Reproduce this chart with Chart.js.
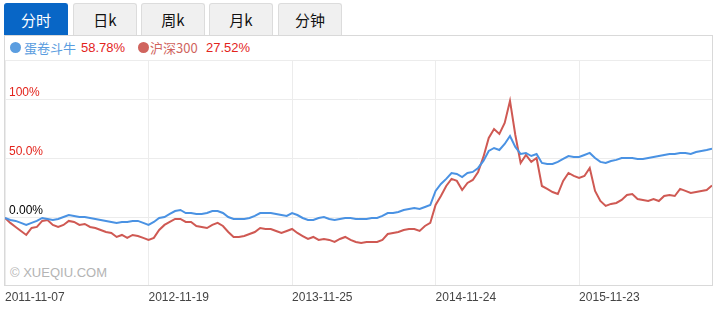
<!DOCTYPE html>
<html>
<head>
<meta charset="utf-8">
<script src="https://cdn.jsdelivr.net/npm/chart.js@4.4.0/dist/chart.umd.min.js"></script>
<style>
  html, body { margin: 0; padding: 0; background: #fff; }
  body { width: 720px; height: 309px; position: relative; overflow: hidden;
         font-family: "Noto Sans CJK SC", "Liberation Sans", Arial, sans-serif; }
  .tab { position: absolute; top: 3px; height: 31px; width: 62px; box-sizing: content-box;
         background: #f0f0f0; border: 1px solid #dcdcdc; border-bottom: none;
         border-radius: 3px 3px 0 0; text-align: center; line-height: 31px;
         font-size: 15px; color: #111; }
  .tab.active { background: #0866c6; border-color: #0866c6; color: #fff; }
  #panel { position: absolute; left: 4px; top: 35px; width: 707px; height: 249px;
           border: 1px solid #d9d9d9; }
  #legend { position: absolute; left: 5px; top: 36px; width: 706px; height: 24px;
            border-bottom: 1px solid #ececec; font-size: 13px; line-height: 24px; }
  #legend span { position: absolute; top: 0; white-space: nowrap; }
  .dot { display: inline-block; width: 11px; height: 11px; border-radius: 50%; position: absolute; top: 6px; }
  #mark { position: absolute; left: 10px; top: 265px; font-family: "Liberation Sans", Arial, sans-serif;
          font-size: 13px; color: #b4b4b4; }
  #chart { position: absolute; left: 0; top: 0; }
</style>
</head>
<body>
<div class="tab active" style="left:4px">分时</div>
<div class="tab" style="left:73px">日k</div>
<div class="tab" style="left:141px">周k</div>
<div class="tab" style="left:209px">月k</div>
<div class="tab" style="left:278px">分钟</div>
<div id="panel"></div>
<div id="legend">
  <i class="dot" style="left:5px;background:#5a9de0"></i>
  <span style="left:19px;color:#5a9de0">蛋卷斗牛</span>
  <span style="left:76px;color:#e3241c;font-family:'Liberation Sans',Arial">58.78%</span>
  <i class="dot" style="left:133px;background:#d0645e"></i>
  <span style="left:145px;color:#d0645e">沪深300</span>
  <span style="left:201px;color:#e3241c;font-family:'Liberation Sans',Arial">27.52%</span>
</div>
<div id="mark">© XUEQIU.COM</div>
<canvas id="chart" width="720" height="309"></canvas>
<script>
// 数据 (累计收益率 %)
const seriesNames = ['蛋卷斗牛', '沪深300'];

const danjuan = [
  0, -1.7, -2.5, -4.2, -5.9, -4.2, -2.5, 0, -0.8, -1.7,
  -0.8, 0.8, 2.5, 1.7, 0.8, 0.8, 0, -0.8, -1.7, -2.5,
  -3.4, -4.2, -3.4, -3.4, -2.5, -2.5, -4.2, -5.9, -3.4, 0,
  0.8, 3.4, 5.9, 6.8, 4.2, 4.2, 3.4, 3.4, 4.2, 5.9,
  5.9, 4.2, 0.8, -0.8, -0.8, -0.8, 0, 1.7, 4.2, 4.2,
  4.2, 3.4, 2.5, 1.7, 4.2, 2.5, 0, -1.7, -1.7, 0,
  0.8, -0.8, -1.7, -0.8, 0, 0, -0.8, -0.8, -0.8, 0,
  0, 1.7, 4.2, 4.2, 5.1, 6.8, 7.6, 8.5, 7.6, 9.3,
  11.0, 22.9, 28.8, 33.1, 38.1, 37.3, 34.7, 38.1, 39.0, 42.4,
  48.3, 56.8, 59.3, 57.6, 62.7, 69.5, 60.2, 54.2, 55.1, 52.5,
  54.2, 46.6, 45.8, 45.8, 47.5, 50.0, 52.5, 51.7, 51.7, 53.4,
  55.1, 50.8, 47.5, 46.6, 48.3, 49.2, 50.8, 50.8, 50.8, 50.0,
  50.0, 50.8, 51.7, 52.5, 53.4, 54.2, 54.2, 55.1, 55.1, 54.2,
  55.9, 56.8, 57.6, 58.78
];

const hs300 = [
  0, -4.2, -7.6, -11.0, -14.4, -8.5, -7.6, -2.5, -1.7, -5.9,
  -7.6, -5.9, -2.5, -3.4, -5.9, -5.1, -7.6, -8.5, -10.2, -11.9,
  -12.7, -16.1, -14.4, -16.9, -14.4, -15.3, -16.9, -18.6, -16.9, -10.2,
  -5.9, -3.4, -0.8, -0.8, -3.4, -3.4, -6.8, -7.6, -8.5, -5.9,
  -4.2, -6.8, -11.9, -16.1, -16.1, -15.3, -13.6, -11.9, -8.5, -9.3,
  -9.3, -11.0, -12.7, -11.0, -9.3, -12.7, -15.3, -17.8, -16.1, -18.6,
  -17.8, -18.6, -20.3, -17.8, -16.1, -18.6, -20.3, -21.2, -20.3, -20.3,
  -20.3, -18.6, -13.6, -12.7, -11.9, -10.2, -9.3, -9.3, -11.0, -6.8,
  -4.2, 11.0, 18.6, 27.1, 33.1, 31.4, 23.7, 29.7, 32.2, 39.0,
  51.7, 67.8, 75.4, 71.2, 80.5, 99.2, 70.3, 46.6, 53.4, 47.5,
  50.8, 27.1, 24.6, 22.0, 20.3, 31.4, 38.1, 35.6, 33.9, 35.6,
  42.4, 22.9, 14.4, 10.2, 11.9, 12.7, 15.3, 19.5, 20.3, 16.1,
  15.3, 14.4, 16.1, 14.4, 18.6, 19.5, 18.6, 24.6, 22.9, 21.2,
  22.0, 22.9, 23.7, 27.52
];

// x 轴刻度 (数据点序号) 与日期
const tickIndex = [0, 27, 54, 81, 108];
const tickDates = ['2011-11-07', '2012-11-19', '2013-11-25', '2014-11-24', '2015-11-23'];

// y 轴刻度
const yTicks = [0, 50, 100];
const yTickLabels = ['0.00%', '50.0%', '100%'];

const toPoints = (arr) => arr.map((v, i) => ({ x: i, y: v }));

const ctx = document.getElementById('chart').getContext('2d');
new Chart(ctx, {
    type: 'line',
    data: {
        datasets: [{
            label: seriesNames[0],
            data: toPoints(danjuan),
            borderColor: '#4a92e3',
            borderWidth: 2,
            pointRadius: 0,
            tension: 0,
            fill: false
        }, {
            label: seriesNames[1],
            data: toPoints(hs300),
            borderColor: '#cf5953',
            borderWidth: 2,
            pointRadius: 0,
            tension: 0,
            fill: false
        }]
    },
    options: {
        responsive: false,
        animation: false,
        devicePixelRatio: 1,
        layout: {
            autoPadding: false,
            padding: { top: 61, left: 4, right: 8, bottom: 0 }
        },
        plugins: {
            legend: { display: false },
            tooltip: { enabled: false }
        },
        scales: {
            x: {
                type: 'linear',
                min: 0,
                max: danjuan.length - 1,
                afterFit: (scale) => { scale.height = 24; },
                afterBuildTicks: (scale) => {
                    scale.ticks = tickIndex.map(v => ({ value: v }));
                },
                grid: { color: '#ececec', drawTicks: false },
                border: { display: false },
                ticks: {
                    align: 'start',
                    padding: 5,
                    color: '#444',
                    font: { family: 'Liberation Sans', size: 12 },
                    callback: (value) => tickDates[tickIndex.indexOf(value)] || ''
                }
            },
            y: {
                min: -56.8,
                max: 133,
                afterFit: (scale) => { scale.width = 0; },
                afterBuildTicks: (scale) => {
                    scale.ticks = yTicks.map(v => ({ value: v }));
                },
                grid: { color: '#ececec', drawTicks: false },
                border: { display: false },
                ticks: {
                    mirror: true,
                    padding: 4,
                    labelOffset: -7,
                    font: { family: 'Liberation Sans', size: 12 },
                    color: (c) => c.tick && c.tick.value === 0 ? '#000' : '#e3241c',
                    callback: (value) => yTickLabels[yTicks.indexOf(value)]
                }
            }
        }
    }
});
</script>
</body>
</html>
